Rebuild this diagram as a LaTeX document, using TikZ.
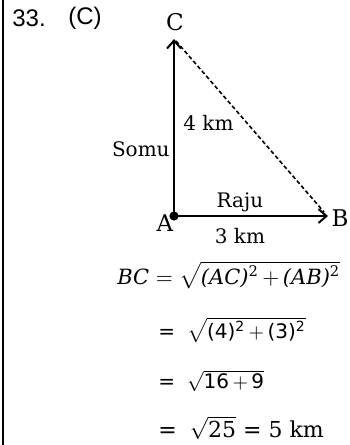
\documentclass[tikz,border=0pt]{standalone}
\usepackage{amsmath}
\usepackage{fontspec}
\setmainfont{DejaVu Serif}
\setsansfont{DejaVu Sans}
\newfontfamily\arialfont{Liberation Sans}
\usetikzlibrary{arrows.meta}
\tikzset{
	lbl/.style={font=\fontsize{10}{12}\selectfont, inner sep=0pt},
	pt/.style={font=\fontsize{11.5}{13}\selectfont, inner sep=0pt},
	num/.style={font=\arialfont\fontsize{12}{14}\selectfont, inner sep=0pt},
	eqn/.style={font=\fontsize{10}{13}\selectfont, inner sep=0pt, anchor=west},
	walk/.style={line width=1pt, -{Straight Barb[length=4pt,width=7pt,line width=1pt]}},
	edge/.style={line width=0.8pt, dash pattern=on 2pt off 1.3pt}
}
\newcommand{\sq}{\textsuperscript{\upshape 2}}

\begin{document}
\begin{tikzpicture}[x=0.5pt,y=-0.5pt]
	\useasboundingbox (0,0) rectangle (349,445);
	\draw[line width=1.3pt] (3,0) -- (3,445);
	
	\node[num, anchor=west] (qno) at (12, 18) {33.};
	\node[num, anchor=west] (ans) at (68, 18) {(C)};
	
	\coordinate (A) at (174, 216);
	\coordinate (B) at (328, 216);
	\coordinate (C) at (174, 39);
	
	\draw[walk] (A) -- (C);
	\draw[walk] (A) -- (B);
	\draw[edge] ([xshift=1pt,yshift=-1pt]C) -- ([xshift=-2pt,yshift=2pt]B);
	\fill (A) circle (2.3pt);
	
	\node[pt] (lC) at (175, 22) {C};
	\node[pt] (lA) at (165, 223) {A};
	\node[pt] (lB) at (340, 218) {B};
	\node[lbl, anchor=west] (ac) at (183, 123) {4 km};
	\node[lbl, anchor=east] (somu) at (170, 149) {Somu};
	\node[lbl] (raju) at (240, 202) {Raju};
	\node[lbl] (ab) at (240, 236) {3 km};
	
	\node[eqn, font=\fontsize{10.5}{13}\selectfont] (eq1) at (117, 275) {\itshape BC\/ $=\sqrt{\text{\itshape (AC)\sq\,$+$\,(AB)\sq}}$};
	\node[eqn] (eq2) at (158, 330) {\sffamily = \;$\sqrt{\text{\sffamily (4)\sq\,$+$\,(3)\sq}}$};
	\node[eqn] (eq3) at (158, 381) {\sffamily = \;$\sqrt{\text{\sffamily 16\,$+$\,9}}$};
	\node[eqn, font=\fontsize{11}{13}\selectfont] (eq4) at (158, 428) {\sffamily = \;$\sqrt{\text{\rmfamily 25}}$ = \rmfamily 5 km};
\end{tikzpicture}
\end{document}
